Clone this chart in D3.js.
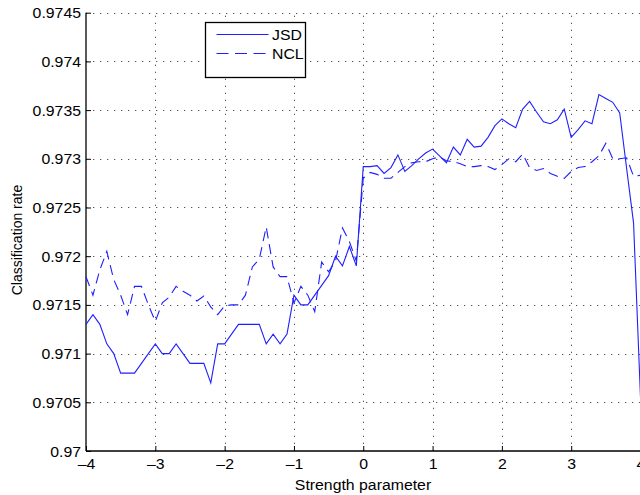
<!DOCTYPE html>
<html>
<head>
<meta charset="utf-8">
<script src="https://cdn.jsdelivr.net/npm/d3@7"></script>
<style>
  body { margin: 0; background: #fff; }
  svg { display: block; font-family: "Liberation Sans", Arial, sans-serif; }
</style>
</head>
<body>
<div class="chart"></div>
<script>
const w = 640;
const h = 495;

// strength parameter samples
const strength = [
  -4.0, -3.9, -3.8, -3.7, -3.6, -3.5, -3.4, -3.3, -3.2, -3.1,
  -3.0, -2.9, -2.8, -2.7, -2.6, -2.5, -2.4, -2.3, -2.2, -2.1,
  -2.0, -1.9, -1.8, -1.7, -1.6, -1.5, -1.4, -1.3, -1.2, -1.1,
  -1.0, -0.9, -0.8, -0.7, -0.6, -0.5, -0.4, -0.3, -0.2, -0.1,
  0.0, 0.1, 0.2, 0.3, 0.4, 0.5, 0.6, 0.7, 0.8, 0.9,
  1.0, 1.1, 1.2, 1.3, 1.4, 1.5, 1.6, 1.7, 1.8, 1.9,
  2.0, 2.1, 2.2, 2.3, 2.4, 2.5, 2.6, 2.7, 2.8, 2.9,
  3.0, 3.1, 3.2, 3.3, 3.4, 3.5, 3.6, 3.7, 3.8, 3.9,
  4.0
];

const jsd = [
  0.9713, 0.9714, 0.9713, 0.9711, 0.9710, 0.9708, 0.9708, 0.9708, 0.9709, 0.9710,
  0.9711, 0.9710, 0.9710, 0.9711, 0.9710, 0.9709, 0.9709, 0.9709, 0.9707, 0.9711,
  0.9711, 0.9712, 0.9713, 0.9713, 0.9713, 0.9713, 0.9711, 0.9712, 0.9711, 0.9712,
  0.9716, 0.9715, 0.9715, 0.9716, 0.9717, 0.9718, 0.9720, 0.9719, 0.9721, 0.9719,
  0.97292, 0.97292, 0.97293, 0.97285, 0.97291, 0.97304, 0.97287, 0.97293, 0.97300, 0.97306,
  0.97310, 0.97303, 0.97296, 0.97312, 0.97304, 0.97320, 0.97312, 0.97313, 0.97322, 0.97334,
  0.97341, 0.97336, 0.97332, 0.97351, 0.97359, 0.97348, 0.97338, 0.97336, 0.97340, 0.97351,
  0.97322, 0.97330, 0.97339, 0.97336, 0.97366, 0.97362, 0.97358, 0.97347, 0.97290, 0.97234,
  0.97055
];

const ncl = [
  0.97179, 0.97160, 0.97186, 0.97205, 0.97176, 0.97160, 0.97140, 0.97169, 0.97169, 0.97150,
  0.97133, 0.97152, 0.97158, 0.97169, 0.97164, 0.97160, 0.97154, 0.97159, 0.97148, 0.97140,
  0.97149, 0.97150, 0.97150, 0.97160, 0.97189, 0.97197, 0.97230, 0.97189, 0.97179, 0.97179,
  0.97152, 0.97169, 0.97160, 0.97143, 0.97194, 0.97184, 0.97195, 0.97229, 0.97215, 0.97195,
  0.97280, 0.97286, 0.97284, 0.97280, 0.97280, 0.97286, 0.97292, 0.97296, 0.97297, 0.97297,
  0.97300, 0.97302, 0.97298, 0.97297, 0.97295, 0.97292, 0.97292, 0.97293, 0.97292, 0.97289,
  0.97294, 0.97300, 0.97297, 0.97305, 0.97291, 0.97288, 0.97290, 0.97285, 0.97282, 0.97280,
  0.97287, 0.97291, 0.97292, 0.97297, 0.97303, 0.97316, 0.97300, 0.97300, 0.97301, 0.97282,
  0.97283
];

const xTicks = [-4, -3, -2, -1, 0, 1, 2, 3, 4];
const yTicks = [0.97, 0.9705, 0.971, 0.9715, 0.972, 0.9725, 0.973, 0.9735, 0.974, 0.9745];
const yTickLabels = ["0.97", "0.9705", "0.971", "0.9715", "0.972", "0.9725", "0.973", "0.9735", "0.974", "0.9745"];

const seriesNames = ["JSD", "NCL"];

const plotLeft = 86;
const plotRight = 640.5;
const plotTop = 12.7;
const plotBottom = 451;
const stretch = 1.13;
const blue = "#1f1fff";

const svg = d3.select(".chart")
  .append("svg")
  .attr("width", w)
  .attr("height", h);

const xScale = d3.scaleLinear().domain([-4, 4]).range([plotLeft, plotRight]);
const yScale = d3.scaleLinear().domain([0.97, 0.9745]).range([plotBottom, plotTop]);

// grid
const grid = svg.append("g").attr("class", "grid")
  .attr("stroke", "#555")
  .attr("stroke-width", 1)
  .attr("stroke-dasharray", "1.3,5.7");

grid.selectAll("line.gx")
  .data(xTicks.slice(1))
  .enter()
  .append("line")
  .attr("x1", d => Math.round(xScale(d)) + 0.5)
  .attr("x2", d => Math.round(xScale(d)) + 0.5)
  .attr("y1", plotBottom)
  .attr("y2", plotTop);

grid.selectAll("line.gy")
  .data(yTicks.slice(1))
  .enter()
  .append("line")
  .attr("x1", plotLeft)
  .attr("x2", w)
  .attr("y1", d => Math.round(yScale(d)) + 0.5)
  .attr("y2", d => Math.round(yScale(d)) + 0.5);

// axes (MATLAB style inward ticks)
const xAxis = d3.axisBottom(xScale)
  .tickValues(xTicks)
  .tickSize(-5)
  .tickPadding(9)
  .tickFormat(d => (d < 0 ? "\u2013" + Math.abs(d) : String(d)));

const yAxis = d3.axisLeft(yScale)
  .tickValues(yTicks)
  .tickSize(-5)
  .tickPadding(5)
  .tickFormat((d, i) => yTickLabels[i]);

const gx = svg.append("g")
  .attr("transform", `translate(0,${plotBottom})`)
  .call(xAxis);

const gy = svg.append("g")
  .attr("transform", `translate(${plotLeft},0)`)
  .call(yAxis);

[gx, gy].forEach(g => {
  g.select(".domain").attr("stroke", "#000").attr("stroke-width", 1.3);
  g.selectAll(".tick line").attr("stroke", "#000");
  g.selectAll(".tick text")
    .attr("fill", "#000")
    .style("font-size", "14px")
    .style("font-family", "Liberation Sans, Arial, sans-serif");
});
gx.select(".domain").attr("d", `M${plotLeft},0H${w}`);
gy.select(".domain").attr("d", `M0,${plotBottom}V${plotTop}`);
gy.selectAll(".tick text").attr("dy", "0.36em");
gx.selectAll(".tick text").attr("dy", "0.62em");

// lines
const line = d3.line()
  .x((d, i) => xScale(strength[i]))
  .y(d => yScale(d));

svg.append("path")
  .datum(jsd)
  .attr("fill", "none")
  .attr("stroke", blue)
  .attr("stroke-width", 1.1)
  .attr("d", line);

svg.append("path")
  .datum(ncl)
  .attr("fill", "none")
  .attr("stroke", blue)
  .attr("stroke-width", 1.1)
  .attr("stroke-dasharray", "10,6")
  .attr("d", line);

// axis labels
svg.append("text")
  .attr("class", "lbl")
  .attr("x", 363)
  .attr("y", 490)
  .attr("text-anchor", "middle")
  .style("font-size", "14px")
  .text("Strength parameter");

svg.append("text")
  .attr("transform", "translate(22,240) rotate(-90)")
  .attr("text-anchor", "middle")
  .style("font-size", "14px")
  .text("Classification rate");

// legend
const legend = svg.append("g").attr("class", "legend");

legend.append("rect")
  .attr("x", 205.5)
  .attr("y", 22.5)
  .attr("width", 100)
  .attr("height", 55)
  .attr("fill", "#fff")
  .attr("stroke", "#000")
  .attr("stroke-width", 1.3);

legend.selectAll("line")
  .data(seriesNames)
  .enter()
  .append("line")
  .attr("x1", 216.5)
  .attr("x2", 268.5)
  .attr("y1", (d, i) => 34.5 + i * 19)
  .attr("y2", (d, i) => 34.5 + i * 19)
  .attr("stroke", blue)
  .attr("stroke-width", 1.1)
  .attr("stroke-dasharray", (d, i) => (i === 0 ? null : "12,6.5"));

legend.selectAll("text")
  .data(seriesNames)
  .enter()
  .append("text")
  .attr("class", "lbl")
  .attr("x", 272)
  .attr("y", (d, i) => 39.5 + i * 19)
  .style("font-size", "14px")
  .text(d => d);

// horizontal text in the reference is a bit wider than the font
svg.selectAll(".lbl, .tick text").each(function () {
  const len = this.getComputedTextLength();
  d3.select(this)
    .attr("textLength", len * stretch)
    .attr("lengthAdjust", "spacingAndGlyphs");
});
</script>
</body>
</html>
